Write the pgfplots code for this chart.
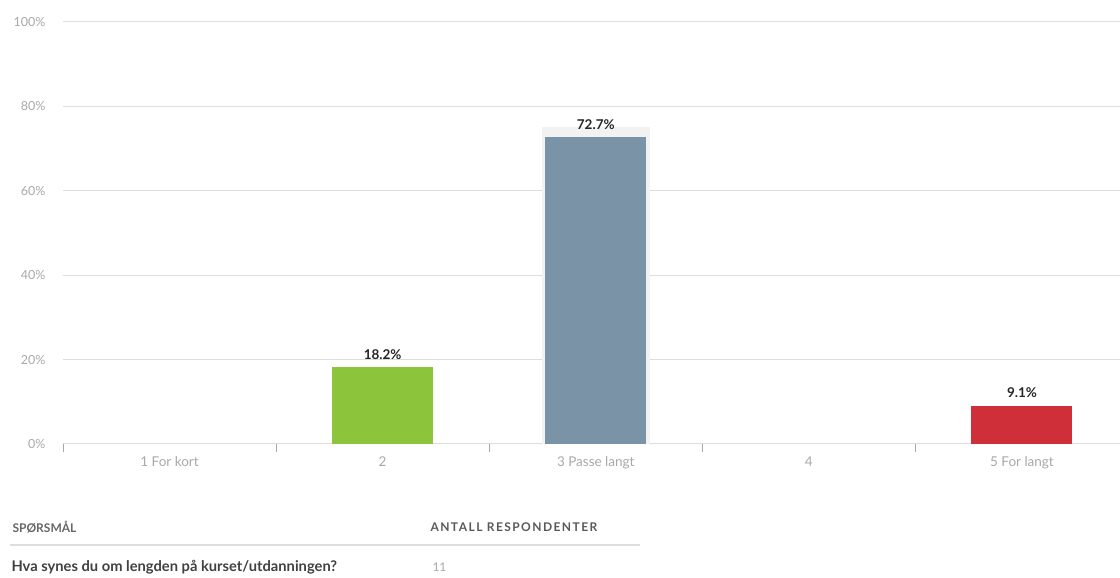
\documentclass[border=0pt]{standalone}
\usepackage{fontspec}
\setmainfont{Lato}
\newfontfamily\spaced[LetterSpace=12]{Lato}
\usepackage{pgfplots}
\pgfplotsset{compat=1.18}
\definecolor{cgreen}{HTML}{8CC43C}
\definecolor{cgray}{HTML}{7B93A6}
\definecolor{cred}{HTML}{CF2F38}
\definecolor{ctick}{HTML}{A8A8A8}
\definecolor{cgrid}{HTML}{DDDDDD}
\begin{document}
\begin{tikzpicture}
\begin{axis}[
  at={(63pt,134pt)}, anchor=south west,
  scale only axis, width=1057pt, height=422pt,
  xmin=-0.5, xmax=4.46, ymin=0, ymax=100,
  axis line style={draw=none},
  ytick={0,20,40,60,80,100},
  yticklabel={\pgfmathprintnumber{\tick}\%},
  /pgf/number format/assume math mode=true,
  yticklabel style={font=\fontsize{12.5}{14}\selectfont, text=ctick, xshift=-14pt},
  ymajorgrids, grid style={cgrid, line width=1pt},
  major y tick style={draw=none},
  xtick={0,1,2,3,4},
  xticklabels={1 For kort,2,3 Passe langt,4,5 For langt},
  xticklabel style={font=\fontsize{13.5}{15}\selectfont, text=ctick, yshift=-9pt},
  minor xtick={-0.5,0.5,1.5,2.5,3.5},
  xtick pos=bottom,
  tick align=outside, major tick length=0pt, minor tick length=8pt,
  minor x tick style={ctick, line width=0.6pt},
  ybar, bar width=101pt, bar shift=0pt,
  nodes near coords={\textbf{\pgfmathprintnumber[fixed,precision=1,fixed zerofill]{\pgfplotspointmeta}\%}},
  nodes near coords style={font=\fontsize{13.5}{15}\selectfont, text=black!85, yshift=4pt},
  clip=false,
]
\addplot[fill=black!5, draw=none, bar width=108pt, nodes near coords={}] coordinates {(2,75.0)};
\addplot[fill=cgreen, draw=none] coordinates {(1,18.2)};
\addplot[fill=cgray, draw=none] coordinates {(2,72.7)};
\addplot[fill=cred, draw=none] coordinates {(4,9.1)};
\end{axis}
\node[anchor=west, font=\bfseries\fontsize{12}{14}\selectfont, text=black!60] at (9pt,51pt) {SPØRSMÅL};
\node[anchor=west, font=\spaced\bfseries\fontsize{12}{14}\selectfont, text=black!65] at (427pt,51pt) {ANTALL RESPONDENTER};
\draw[cgrid, line width=1.2pt] (10pt,33pt) -- (640pt,33pt);
\node[anchor=west, font=\bfseries\fontsize{14.7}{16}\selectfont, text=black!75] at (8pt,11pt) {Hva synes du om lengden på kurset/utdanningen?};
\node[anchor=west, font=\fontsize{12}{14}\selectfont, text=ctick] at (429pt,11pt) {11};
\pgfresetboundingbox
\useasboundingbox (0,0) rectangle (1120pt,578pt);
\end{tikzpicture}
\end{document}
